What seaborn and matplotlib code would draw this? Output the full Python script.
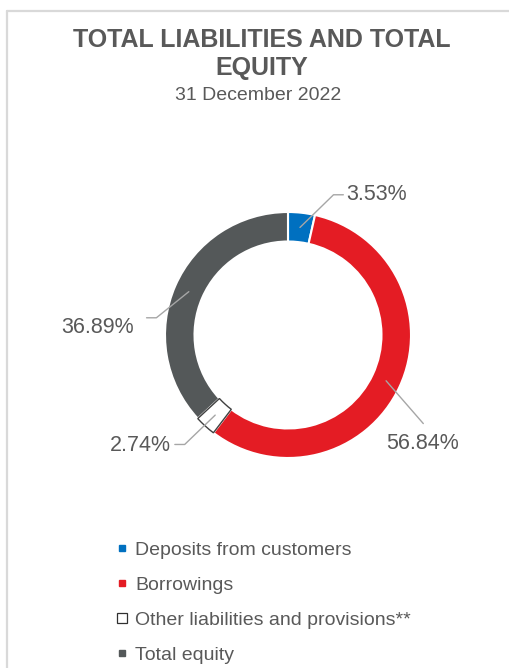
"""
Donut chart: total liabilities and total equity, 31 December 2022.
"""
import numpy as np
import matplotlib
matplotlib.use("Agg")
import matplotlib.pyplot as plt
from matplotlib.lines import Line2D
import seaborn as sns

categories = ["Deposits from customers", "Borrowings",
              "Other liabilities and provisions**", "Total equity"]
shares = [3.53, 56.84, 2.74, 36.89]
colors = ["#0070C0", "#E41C24", "#FFFFFF", "#545859"]

TEXT = "#595959"

sns.set_theme(style="white")
plt.rcParams["font.family"] = ["Liberation Sans", "DejaVu Sans"]

fig = plt.figure(figsize=(5.09, 6.68), dpi=100)
W, H = 509, 668

# pie axes placed by pixel box: centre (288, 335), radius 123 px
cx, cy, R = 288, 335, 123
ax = fig.add_axes([(cx - R) / W, 1 - (cy + R) / H, 2 * R / W, 2 * R / H])

wedges, _ = ax.pie(shares, colors=colors, startangle=90, counterclock=False,
                   radius=1.0,
                   wedgeprops=dict(width=0.24, edgecolor="white", linewidth=1.5))
ax.set_xlim(-1, 1)
ax.set_ylim(-1, 1)
ax.set_aspect("equal")
ax.axis("off")
wedges[2].set_edgecolor("#404040")
wedges[2].set_linewidth(1.0)
wedges[2].set_zorder(3)

# label placement (data units, relative to pie centre): elbow, line end, text
label_layout = [
    ((0.37, 1.14), (0.45, 1.14), (0.47, 1.14), "left"),
    ((1.10, -0.72), (1.10, -0.72), (1.09, -0.88), "center"),
    ((-0.84, -0.89), (-0.92, -0.89), (-1.20, -0.90), "center"),
    ((-1.07, 0.14), (-1.15, 0.14), (-1.55, 0.06), "center"),
]
for w, val, (elbow, end, tpos, ha) in zip(wedges, shares, label_layout):
    mid = np.deg2rad((w.theta1 + w.theta2) / 2)
    r = 0.88
    start = (r * np.cos(mid), r * np.sin(mid))
    ax.plot([start[0], elbow[0], end[0]], [start[1], elbow[1], end[1]],
            color="#A6A6A6", lw=1.0, clip_on=False, zorder=4)
    ax.text(tpos[0], tpos[1], f"{val:.2f}%", ha=ha, va="center",
            fontsize=15.5, color=TEXT, clip_on=False)

fig.text(262 / W, 1 - 40 / H, "TOTAL LIABILITIES AND TOTAL", ha="center",
         va="center", fontsize=18, fontweight="bold", color=TEXT)
fig.text(262 / W, 1 - 68 / H, "EQUITY", ha="center", va="center",
         fontsize=18, fontweight="bold", color=TEXT)
fig.text(258 / W, 1 - 95 / H, "31 December 2022", ha="center", va="center",
         fontsize=14, color=TEXT)

handles = []
for c in colors:
    if c == "#FFFFFF":
        h = Line2D([], [], marker="s", ls="", markersize=7,
                   markerfacecolor="white", markeredgecolor="#303030",
                   markeredgewidth=0.9)
    else:
        h = Line2D([], [], marker="s", ls="", markersize=5,
                   markerfacecolor=c, markeredgecolor=c)
    handles.append(h)

leg = fig.legend(handles, categories, loc="upper left",
                 bbox_to_anchor=(115 / W, 1 - 541 / H), frameon=False,
                 fontsize=14, handlelength=0.7, handletextpad=0.35,
                 labelspacing=0.9, borderpad=0, borderaxespad=0)
for t in leg.get_texts():
    t.set_color(TEXT)

# light frame on left and top
fig.add_artist(Line2D([7 / W, 7 / W], [0, 1 - 11 / H], color="#D9D9D9", lw=1.6))
fig.add_artist(Line2D([7 / W, 1], [1 - 11 / H, 1 - 11 / H], color="#D9D9D9", lw=1.6))

fig.savefig("out.png", dpi=100)
